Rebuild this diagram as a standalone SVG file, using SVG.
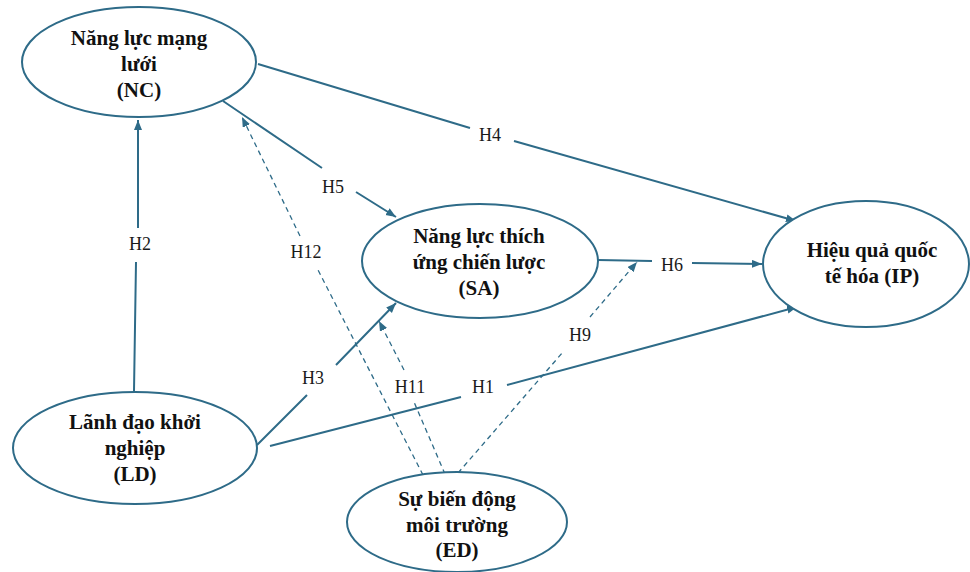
<svg xmlns="http://www.w3.org/2000/svg" width="970" height="572" viewBox="0 0 970 572">
<style>
.node ellipse{fill:#fff;stroke:#2e6b88;stroke-width:2}
.node text{font-family:"Liberation Serif","Times New Roman",serif;font-weight:bold;font-size:21px;fill:#111;text-anchor:middle}
.c{fill:none;stroke:#2e6b88;stroke-width:2}
.d{fill:none;stroke:#2e6b88;stroke-width:1.3;stroke-dasharray:5,4}
.lbl{font-family:"Liberation Serif","Times New Roman",serif;font-size:18px;fill:#1a1a1a;text-anchor:middle}
</style>
<defs>
<marker id="ah" markerUnits="userSpaceOnUse" markerWidth="11" markerHeight="9" refX="10" refY="4" orient="auto">
<path d="M0,0 L10,4 L0,8 z" fill="#2e6b88"/>
</marker>
</defs>
<rect width="970" height="572" fill="#fff"/>
<g id="connectors">
<path class="c" d="M134,391 L136,262 M138,228 L138,120" marker-end="url(#ah)"/>
<path class="c" d="M258,64 L470,128 M514,141 L796,221" marker-end="url(#ah)"/>
<path class="c" d="M223,101 L322,168 M356,192 L396,217" marker-end="url(#ah)"/>
<path class="c" d="M598,260 L652,261 M692,263 L762,264" marker-end="url(#ah)"/>
<path class="c" d="M257,445 L307,395 M336,365 L396,303" marker-end="url(#ah)"/>
<path class="c" d="M270,446 L461,397 M507,385 L797,307" marker-end="url(#ah)"/>
<path class="d" d="M423,475 L317,268 M300,236 L242,117" marker-end="url(#ah)"/>
<path class="d" d="M445,474 L414,402 M404,370 L379,321" marker-end="url(#ah)"/>
<path class="d" d="M458,473 L563,352 M590,317 L637,262" marker-end="url(#ah)"/>
<text class="lbl" x="140" y="250">H2</text>
<text class="lbl" x="490" y="141">H4</text>
<text class="lbl" x="333" y="193">H5</text>
<text class="lbl" x="672" y="271">H6</text>
<text class="lbl" x="313" y="384">H3</text>
<text class="lbl" x="483" y="393">H1</text>
<text class="lbl" x="306" y="258">H12</text>
<text class="lbl" x="410" y="393">H11</text>
<text class="lbl" x="580" y="341">H9</text>
</g>
<g id="NC" class="node">
<ellipse cx="139" cy="62" rx="117" ry="55"/>
<text x="139" y="45">Năng lực mạng</text>
<text x="139" y="71">lưới</text>
<text x="139" y="97">(NC)</text>
</g>
<g id="SA" class="node">
<ellipse cx="480" cy="261" rx="118" ry="57"/>
<text x="479" y="243">Năng lực thích</text>
<text x="479" y="269">ứng chiến lược</text>
<text x="479" y="295">(SA)</text>
</g>
<g id="IP" class="node">
<ellipse cx="866" cy="264" rx="103" ry="63"/>
<text x="872" y="257">Hiệu quả quốc</text>
<text x="872" y="283">tế hóa (IP)</text>
</g>
<g id="LD" class="node">
<ellipse cx="135" cy="448" rx="122" ry="56"/>
<text x="135" y="429">Lãnh đạo khởi</text>
<text x="135" y="455">nghiệp</text>
<text x="135" y="481">(LD)</text>
</g>
<g id="ED" class="node">
<ellipse cx="457" cy="522" rx="110" ry="50"/>
<text x="457" y="506">Sự biến động</text>
<text x="457" y="532">môi trường</text>
<text x="457" y="557">(ED)</text>
</g>
</svg>
